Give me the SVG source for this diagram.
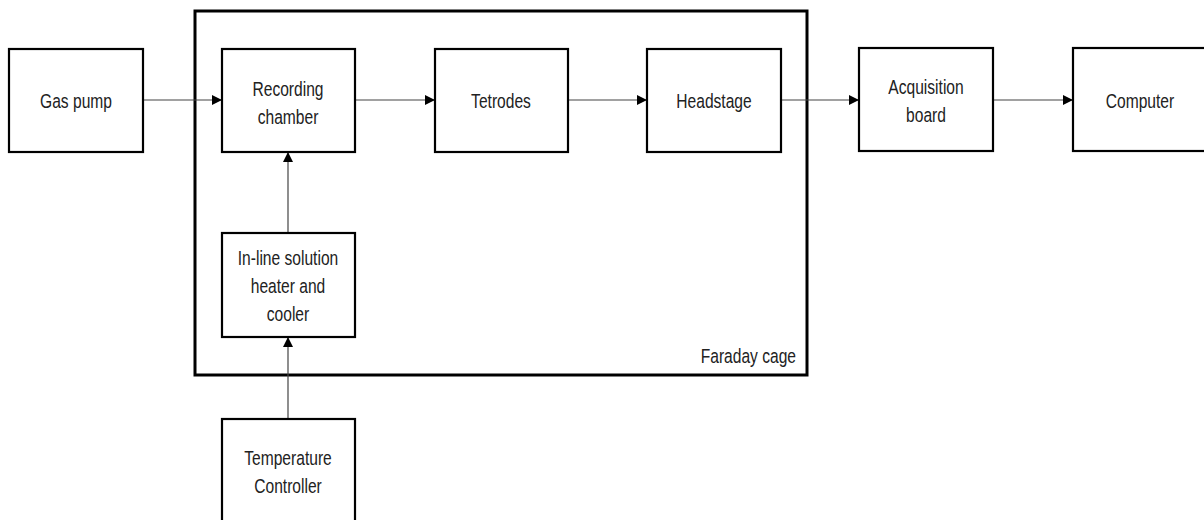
<svg xmlns="http://www.w3.org/2000/svg" width="1204" height="520" viewBox="0 0 1204 520">
  <defs>
    <marker id="arrow" viewBox="0 0 10 10" refX="10" refY="5" markerWidth="11" markerHeight="10" markerUnits="userSpaceOnUse" orient="auto">
      <path d="M0,0 L10,5 L0,10 Z" fill="#000"/>
    </marker>
    <style>
      .box { fill: #fff; stroke: #000; stroke-width: 2.2; }
      .cage { fill: none; stroke: #000; stroke-width: 3; }
      .link { stroke: #444; stroke-width: 1.2; fill: none; marker-end: url(#arrow); }
      text { font-family: "Liberation Sans", Arial, sans-serif; font-size: 19.5px; fill: #222; text-anchor: middle; }
      .right { text-anchor: end; }
    </style>
  </defs>

  <rect width="1204" height="520" fill="#fff"/>

  <!-- enclosure -->
  <g id="faraday-cage">
    <rect class="cage" x="195" y="11" width="612" height="364"/>
    <text class="right" transform="translate(796,363) scale(0.8,1)">Faraday cage</text>
  </g>

  <!-- connectors -->
  <g id="connectors">
    <line class="link" x1="144" y1="100" x2="222" y2="100"/>
    <line class="link" x1="356" y1="100" x2="435" y2="100"/>
    <line class="link" x1="569" y1="100" x2="647" y2="100"/>
    <line class="link" x1="782" y1="100" x2="859" y2="100"/>
    <line class="link" x1="994" y1="100" x2="1073" y2="100"/>
    <line class="link" x1="288" y1="233" x2="288" y2="152"/>
    <line class="link" x1="288" y1="419" x2="288" y2="337"/>
  </g>

  <g id="gas-pump">
    <rect class="box" x="9" y="49" width="134" height="103"/>
    <text transform="translate(76,108) scale(0.8,1)">Gas pump</text>
  </g>

  <g id="recording-chamber">
    <rect class="box" x="222" y="49" width="133" height="103"/>
    <text transform="translate(288,96) scale(0.8,1)">Recording</text>
    <text transform="translate(288,124) scale(0.8,1)">chamber</text>
  </g>

  <g id="tetrodes">
    <rect class="box" x="435" y="49" width="133" height="103"/>
    <text transform="translate(501,108) scale(0.8,1)">Tetrodes</text>
  </g>

  <g id="headstage">
    <rect class="box" x="647" y="49" width="134" height="103"/>
    <text transform="translate(714,108) scale(0.8,1)">Headstage</text>
  </g>

  <g id="acquisition-board">
    <rect class="box" x="859" y="48" width="134" height="103"/>
    <text transform="translate(926,94) scale(0.8,1)">Acquisition</text>
    <text transform="translate(926,122) scale(0.8,1)">board</text>
  </g>

  <g id="computer">
    <rect class="box" x="1073" y="48" width="134" height="103"/>
    <text transform="translate(1140,108) scale(0.8,1)">Computer</text>
  </g>

  <g id="heater-cooler">
    <rect class="box" x="222" y="233" width="133" height="104"/>
    <text transform="translate(288,265) scale(0.8,1)">In-line solution</text>
    <text transform="translate(288,293) scale(0.8,1)">heater and</text>
    <text transform="translate(288,321) scale(0.8,1)">cooler</text>
  </g>

  <g id="temperature-controller">
    <rect class="box" x="222" y="419" width="133" height="110"/>
    <text transform="translate(288,465) scale(0.8,1)">Temperature</text>
    <text transform="translate(288,493) scale(0.8,1)">Controller</text>
  </g>
</svg>
